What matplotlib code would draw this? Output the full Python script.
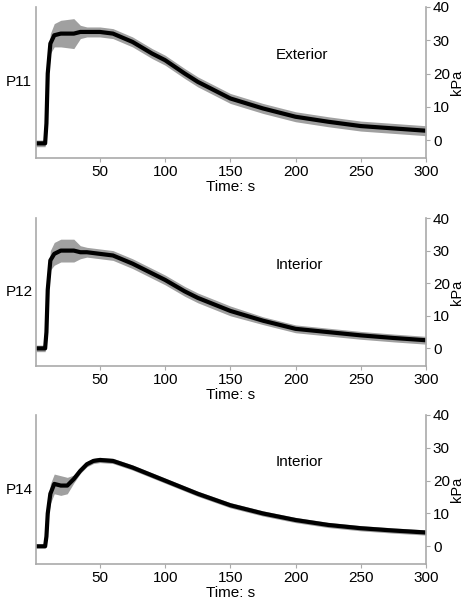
import numpy as np
import matplotlib.pyplot as plt

plt.rcParams['font.family'] = ['Liberation Sans', 'DejaVu Sans']

# time points (s) and values (kPa)
t11 = [1, 8, 9, 10, 12, 15, 20, 30, 35, 40, 50, 60, 75, 90, 100, 115, 125, 150, 175, 200, 225, 250, 275, 300]
p11 = [-1, -1, 5, 20, 29, 31.5, 32, 32, 32.5, 32.5, 32.5, 32, 29.5, 26, 24, 20, 17.5, 12.5, 9.5, 7, 5.5, 4.2, 3.5, 2.8]
w11 = [1, 1, 2, 3, 3, 3.5, 4, 4.5, 2, 1.5, 1.5, 1.5, 1.5, 1.5, 1.5, 1.5, 1.5, 1.5, 1.5, 1.5, 1.5, 1.5, 1.5, 1.5]

t12 = [1, 8, 9, 10, 12, 15, 20, 30, 35, 40, 50, 60, 75, 90, 100, 115, 125, 150, 175, 200, 225, 250, 275, 300]
p12 = [0, 0, 5, 18, 27, 29, 30, 30, 29.5, 29.5, 29, 28.5, 26, 23, 21, 17.5, 15.5, 11.5, 8.5, 6, 5, 4, 3.2, 2.5]
w12 = [1, 1, 2, 3, 3, 3.5, 3.5, 3.5, 2, 1.5, 1.5, 1.5, 1.5, 1.5, 1.5, 1.5, 1.5, 1.5, 1.2, 1.2, 1.2, 1.2, 1.2, 1.2]

t14 = [1, 8, 9, 10, 12, 15, 20, 25, 30, 35, 40, 45, 50, 60, 75, 100, 125, 150, 175, 200, 225, 250, 275, 300]
p14 = [0, 0, 3, 10, 16, 19, 18.5, 18.5, 20.5, 23, 25, 26, 26.3, 26, 24, 20, 16, 12.5, 10, 8, 6.5, 5.5, 4.8, 4.2]
w14 = [0.5, 0.5, 1, 2, 3, 3, 3, 2.5, 1.2, 0.8, 0.8, 0.8, 0.8, 0.8, 0.8, 0.8, 0.8, 0.8, 0.8, 0.8, 0.8, 0.8, 0.8, 0.8]

names = ['P11', 'P12', 'P14']
notes = ['Exterior', 'Interior', 'Interior']
series = [(t11, p11, w11), (t12, p12, w12), (t14, p14, w14)]

fig = plt.figure(figsize=(4.65, 6), dpi=100)
# axes boxes in pixels: (top, bottom)
boxes = [(7, 158), (218, 366), (415, 564)]
gray = '#aaaaaa'
fs = 11

for (t, p, w), name, note, (top, bot) in zip(series, names, notes, boxes):
    ax = fig.add_axes([36 / 465, 1 - bot / 600, 390 / 465, (bot - top) / 600])
    t = np.array(t); p = np.array(p); w = np.array(w)
    ax.fill_between(t, p - w, p + w, color='#a0a0a0', lw=0)
    ax.plot(t, p, color='black', lw=3)
    ax.set_xlim(1, 300)
    ax.set_ylim(-5.4, 40)
    ax.yaxis.tick_right()
    ax.yaxis.set_label_position('right')
    ax.set_yticks([0, 10, 20, 30, 40])
    ax.set_xticks([50, 100, 150, 200, 250, 300])
    ax.set_ylabel('kPa', fontsize=10.5, labelpad=0)
    ax.set_xlabel('Time: s', fontsize=fs, labelpad=1)
    ax.spines['top'].set_visible(False)
    for s in ['left', 'right', 'bottom']:
        ax.spines[s].set_color(gray)
        ax.spines[s].set_linewidth(1.2)
    ax.tick_params(colors=gray, labelcolor='black', labelsize=fs, length=3, pad=2)
    ax.text(-0.077, 0.5, name, transform=ax.transAxes, ha='left', va='center', fontsize=fs)
    ax.text(185, 24.5, note, fontsize=fs)

fig.savefig('out.png', dpi=100)
